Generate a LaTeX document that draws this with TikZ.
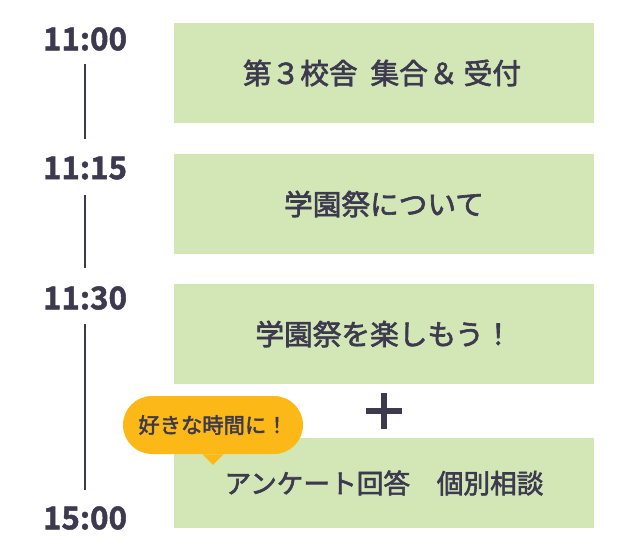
\documentclass[tikz,border=0pt]{standalone}
\usepackage{fontspec}
\setmainfont{Noto Sans CJK JP}[BoldFont={Noto Sans CJK JP Bold}]
\newfontfamily\medfont{Noto Sans CJK JP}[FakeBold=2.2]
\newfontfamily\heavyfont{Noto Sans CJK JP Bold}[FakeBold=1.5]
\usetikzlibrary{shapes.misc}
\definecolor{boxgreen}{HTML}{D3E7B6}
\definecolor{ink}{HTML}{3D3A4F}
\definecolor{bubble}{HTML}{FBB816}
\begin{document}
\begin{tikzpicture}[x=0.75pt,y=-0.75pt,
  stepbox/.style={fill=boxgreen,draw=none,minimum width=315pt,minimum height=75pt,inner sep=0pt,text=ink,font=\medfont\fontsize{21.5}{24}\selectfont},
  timelbl/.style={text=ink,font=\heavyfont\fontsize{23.5}{25}\selectfont,inner sep=0pt},
  tline/.style={draw=ink,line width=2.2pt}]
\useasboundingbox (0,0) rectangle (640,560);
\node[stepbox] (b1) at (384,73) {\hspace{-3pt}第３校舎\hspace{0.45em}集合\hspace{0.05em}＆\hspace{0.2em}受付};
\node[stepbox] (b2) at (384,204) {学園祭について};
\node[stepbox] (b3) at (384,334) {学園祭を楽しもう！};
\node[stepbox,minimum height=67.5pt,font=\medfont\fontsize{20}{22}\selectfont] (b4) at (384,483) {アンケート回答\hspace{1em}個別相談};
\node[timelbl] (t1) at (85,39) {11:00};
\node[timelbl] (t2) at (85,168) {11:15};
\node[timelbl] (t3) at (85,298) {11:30};
\node[timelbl] (t4) at (85,518) {15:00};
\coordinate (l1a) at (85,64); \coordinate (l1b) at (85,139);
\coordinate (l2a) at (85,195); \coordinate (l2b) at (85,268);
\coordinate (l3a) at (85,324); \coordinate (l3b) at (85,490);
\draw[tline] (l1a) -- (l1b);
\draw[tline] (l2a) -- (l2b);
\draw[tline] (l3a) -- (l3b);
\node[fill=ink,minimum width=27pt,minimum height=5.2pt,inner sep=0pt] (plh) at (384,411) {};
\node[fill=ink,minimum width=5.2pt,minimum height=27pt,inner sep=0pt] (plv) at (384,411) {};
\node[fill=bubble,rounded rectangle,minimum width=135pt,minimum height=43.5pt,inner sep=0pt,text=ink,font=\medfont\fontsize{16}{18}\selectfont] (bub) at (213,425) {好きな時間に！};
\coordinate (tip) at (213,465);
\fill[bubble] ([xshift=-8pt]bub.south) -- (tip) -- ([xshift=8pt]bub.south) -- cycle;
\end{tikzpicture}
\end{document}
